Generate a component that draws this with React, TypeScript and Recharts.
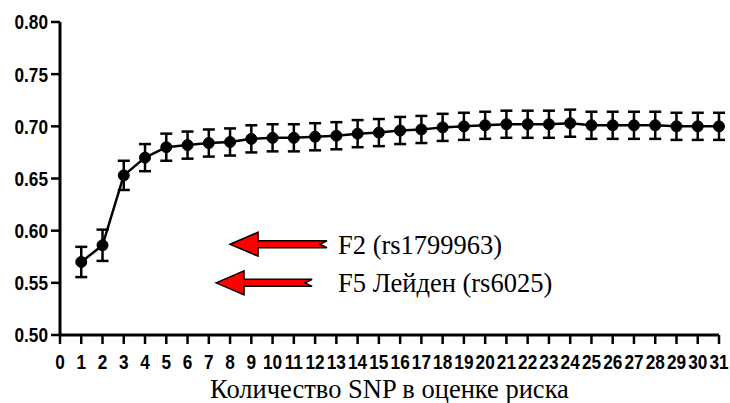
import { LineChart, Line, XAxis, YAxis, ErrorBar, ReferenceLine, ReferenceDot, Label } from 'recharts'

// number of SNPs in the risk score
const snpCount = [1, 2, 3, 4, 5, 6, 7, 8, 9, 10, 11, 12, 13, 14, 15, 16, 17, 18, 19, 20, 21, 22, 23, 24, 25, 26, 27, 28, 29, 30, 31]
const aucValues = [
    0.570, 0.586, 0.653, 0.670, 0.680, 0.682, 0.684, 0.685, 0.688, 0.689,
    0.689, 0.690, 0.691, 0.693, 0.694, 0.696, 0.697, 0.699, 0.700, 0.701,
    0.702, 0.702, 0.702, 0.703, 0.701, 0.701, 0.701, 0.701, 0.700, 0.700, 0.700
]
const aucErrors = [
    0.0145, 0.015, 0.014, 0.013, 0.013, 0.013, 0.013, 0.013, 0.013, 0.013,
    0.013, 0.013, 0.013, 0.013, 0.013, 0.013, 0.013, 0.013, 0.013, 0.013,
    0.013, 0.013, 0.013, 0.013, 0.013, 0.013, 0.013, 0.013, 0.013, 0.013, 0.013
]
const xTicks = [0, 1, 2, 3, 4, 5, 6, 7, 8, 9, 10, 11, 12, 13, 14, 15, 16, 17, 18, 19, 20, 21, 22, 23, 24, 25, 26, 27, 28, 29, 30, 31]
const yTicks = [0.5, 0.55, 0.6, 0.65, 0.7, 0.75, 0.8]

// annotation arrows
const arrowLabels = ['F2 (rs1799963)', 'F5 Лейден (rs6025)']
const arrowTips = [8.0, 7.34]
const arrowTails = [12.56, 11.86]
const arrowLevels = [0.587, 0.55]
const labelX = 13.08

const xTitle = 'Количество SNP в оценке риска'

const data = snpCount.map((n, i) => ({ n, auc: aucValues[i], err: aucErrors[i] }))

const sans = '"Liberation Sans", Arial, sans-serif'
const serif = '"Liberation Serif", "Times New Roman", serif'

// condensed bold tick text
function NarrowTick(props: any) {
    const { x, y, payload, anchor, dy, fmt } = props
    const label = fmt ? fmt(payload.value) : String(payload.value)
    return (
        <text
            transform={`translate(${x},${y}) scale(0.82,1)`}
            textAnchor={anchor}
            dy={dy}
            fontFamily={sans}
            fontWeight={700}
            fontSize={21}
            fill="#000"
        >
            {label}
        </text>
    )
}

function Arrow(props: any) {
    const left = Math.min(props.x1, props.x2)
    const right = Math.max(props.x1, props.x2)
    const y = props.y1
    const head = 28
    const hh = 12
    const sh = 3.5
    const pts = [
        [left, y],
        [left + head, y - hh],
        [left + head, y - sh],
        [right, y - sh],
        [right - 7, y],
        [right, y + sh],
        [left + head, y + sh],
        [left + head, y + hh]
    ].map(p => p.join(',')).join(' ')
    return <polygon points={pts} fill="#ff0000" stroke="#000" strokeWidth={1.5} strokeLinejoin="miter" />
}

function ArrowText(props: any) {
    return (
        <text x={props.cx} y={props.cy} dy="0.35em" textAnchor="start" fontFamily={serif} fontSize={26.5} fill="#000">
            {props.text}
        </text>
    )
}

export default function App() {
    return (
        <div style={{ position: 'absolute', left: 0, top: 0, background: '#fff' }}>
            <LineChart width={730} height={403} data={data} margin={{ top: 22, right: 11, bottom: 0, left: 0 }}>
                <XAxis
                    type="number"
                    dataKey="n"
                    domain={[0, 31]}
                    ticks={xTicks}
                    interval={0}
                    height={68}
                    tickSize={9}
                    tickMargin={10}
                    tick={<NarrowTick anchor="middle" dy="0.71em" />}
                    axisLine={{ stroke: '#000', strokeWidth: 3 }}
                    tickLine={{ stroke: '#000', strokeWidth: 2.5 }}
                >
                    <Label value={xTitle} position="insideBottom" offset={5} style={{ fontFamily: serif, fontSize: 26.5, fill: '#000' }} />
                </XAxis>
                <YAxis
                    type="number"
                    domain={[0.5, 0.8]}
                    ticks={yTicks}
                    width={60}
                    tickSize={9}
                    tickMargin={3}
                    tick={<NarrowTick anchor="end" dy="0.355em" fmt={(v: number) => v.toFixed(2)} />}
                    axisLine={{ stroke: '#000', strokeWidth: 3 }}
                    tickLine={{ stroke: '#000', strokeWidth: 2.5 }}
                />
                {arrowLabels.map((t, i) => (
                    <ReferenceLine
                        key={`arrow-${i}`}
                        segment={[{ x: arrowTips[i], y: arrowLevels[i] }, { x: arrowTails[i], y: arrowLevels[i] }]}
                        shape={Arrow}
                    />
                ))}
                {arrowLabels.map((t, i) => (
                    <ReferenceDot
                        key={`label-${i}`}
                        x={labelX}
                        y={arrowLevels[i]}
                        r={0}
                        shape={(p: any) => <ArrowText {...p} text={t} />}
                    />
                ))}
                <Line
                    type="linear"
                    dataKey="auc"
                    stroke="#000"
                    strokeWidth={2.5}
                    dot={{ r: 5.5, fill: '#000', stroke: '#000', strokeWidth: 1 }}
                    activeDot={false}
                    isAnimationActive={false}
                >
                    <ErrorBar dataKey="err" direction="y" width={6} stroke="#000" strokeWidth={2.5} />
                </Line>
            </LineChart>
        </div>
    )
}
